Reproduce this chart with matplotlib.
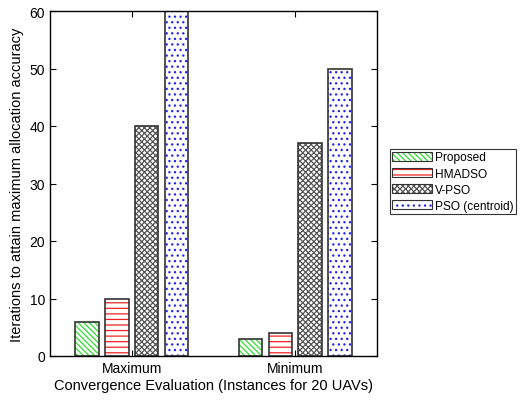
import matplotlib.pyplot as plt
import numpy as np

plt.rcParams["font.family"] = ["Liberation Sans", "DejaVu Sans"]
plt.rcParams["hatch.linewidth"] = 0.9

groups = ["Maximum", "Minimum"]
methods = ["Proposed", "HMADSO", "V-PSO", "PSO (centroid)"]
values = {
    "Proposed": [6, 3],
    "HMADSO": [10, 4],
    "V-PSO": [40, 37],
    "PSO (centroid)": [60, 50],
}
hatch_colors = ["#33dd33", "#ee2222", "#555555", "#2222ee"]
hatches = ["\\\\\\\\\\\\", "---", "xxxxxx", "..."]

fig = plt.figure(figsize=(5.22, 4.02), dpi=100)
ax = fig.add_axes([50 / 522, 1 - 357 / 402, 327 / 522, 345 / 402])

x = np.arange(1, len(groups) + 1)
offsets = [-0.273, -0.091, 0.091, 0.273]
width = 0.145

handles = []
for i, m in enumerate(methods):
    ax.bar(x + offsets[i], values[m], width, color="white", edgecolor=hatch_colors[i],
           hatch=hatches[i], linewidth=0)
    ax.bar(x + offsets[i], values[m], width, color="none", edgecolor="#333333", linewidth=1.2)
    h1 = plt.Rectangle((0, 0), 1, 1, facecolor="white", edgecolor=hatch_colors[i],
                       hatch=hatches[i], linewidth=0)
    h2 = plt.Rectangle((0, 0), 1, 1, facecolor="none", edgecolor="#333333", linewidth=0.8)
    handles.append((h1, h2))

ax.set_xlim(0.5, 2.5)
ax.set_ylim(0, 60)
ax.set_yticks(np.arange(0, 61, 10))
ax.set_xticks(x)
ax.set_xticklabels(groups)
ax.tick_params(direction="in", top=True, right=True, labelsize=10, length=4)
for s in ax.spines.values():
    s.set_linewidth(1.0)
ax.set_xlabel("Convergence Evaluation (Instances for 20 UAVs)", fontsize=10.5, labelpad=2)
ax.set_ylabel("Iterations to attain maximum allocation accuracy", fontsize=10.5, labelpad=4)

leg = ax.legend(handles, methods, loc="upper left", bbox_to_anchor=(390 / 522, 1 - 150 / 402),
                bbox_transform=fig.transFigure, fontsize=8.6, frameon=True, fancybox=False,
                edgecolor="black", handlelength=3.3, handleheight=0.8, borderpad=0.2,
                labelspacing=0.35, handletextpad=0.3, borderaxespad=0)
leg.get_frame().set_linewidth(0.8)

plt.savefig("out.png", dpi=100)
